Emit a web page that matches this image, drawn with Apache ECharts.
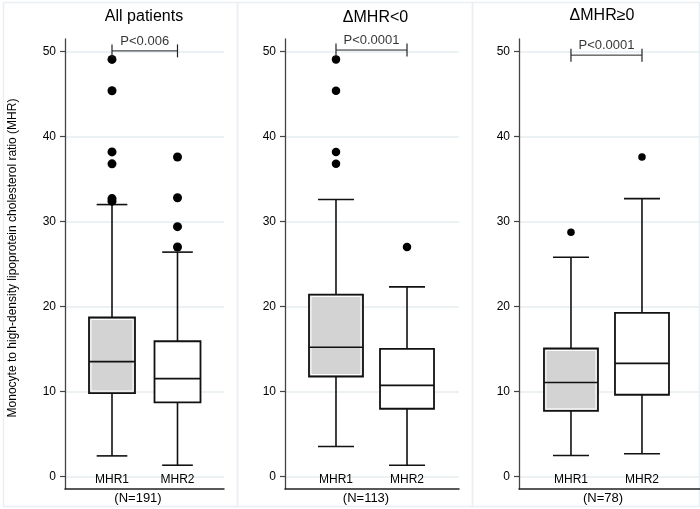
<!DOCTYPE html>
<html><head><meta charset="utf-8">
<script src="https://cdn.jsdelivr.net/npm/echarts@6/dist/echarts.min.js"></script>
<style>html,body{margin:0;padding:0;background:#fff}#c{width:700px;height:509px}</style>
</head><body><div id="c"></div>
<script>
// ---- data ----
const categories = ['MHR1', 'MHR2'];
const panelTitles = ['All patients', 'ΔMHR<0', 'ΔMHR≥0'];
const nLabels = ['(N=191)', '(N=113)', '(N=78)'];
const pLabels = ['P<0.006', 'P<0.0001', 'P<0.0001'];
const yTicks = [0, 10, 20, 30, 40, 50];
const yAxisName = 'Monocyte to high-density lipoprotein cholesterol ratio (MHR)';
// box stats: [min, Q1, median, Q3, max] for MHR1, MHR2
const allBoxes = [[2.4, 9.8, 13.5, 18.7, 32.0], [1.3, 8.7, 11.5, 15.9, 26.4]];
const negBoxes = [[3.5, 11.75, 15.2, 21.4, 32.6], [1.3, 7.95, 10.7, 15.0, 22.3]];
const posBoxes = [[2.45, 7.7, 11.05, 15.05, 25.8], [2.65, 9.6, 13.3, 19.25, 32.7]];
const allOutMHR1 = [49.1, 45.4, 38.2, 36.8, 32.7, 32.4];
const allOutMHR2 = [37.6, 32.8, 29.4, 27.0];
const negOutMHR1 = [49.1, 45.4, 38.2, 36.8];
const negOutMHR2 = [27.0];
const posOutMHR1 = [28.75];
const posOutMHR2 = [37.6];
const pBracketY = [50.1, 50.2, 49.6];

const panelBoxes = [allBoxes, negBoxes, posBoxes];
const panelOut = [[allOutMHR1, allOutMHR2], [negOutMHR1, negOutMHR2], [posOutMHR1, posOutMHR2]];

// ---- layout / style ----
const layout = [
  {left: 65, width: 159, xMin: 0.2824, xMax: 2.71, boxW: 46, dot: 9, titleX: 144, titleY: 17, nX: 138, frame: [3.5, 237.5]},
  {left: 285, width: 174, xMin: 0.282, xMax: 2.732, boxW: 54, dot: 8.5, titleX: 375.5, titleY: 17.5, nX: 366, frame: [237.5, 472.5]},
  {left: 519, width: 181, xMin: 0.268, xMax: 2.817, boxW: 54, dot: 7.5, titleX: 602, titleY: 15.5, nX: 603, frame: [472.5, 699.5]}
];
const boxFills = ['#d3d3d3', '#ffffff'];
const FONT = '"Liberation Sans", Arial, Helvetica, sans-serif';
const TXT = '#000';

function makeRender(boxW) {
  return function (params, api) {
    const x = api.value(0);
    const pMin = api.coord([x, api.value(1)]);
    const pQ1 = api.coord([x, api.value(2)]);
    const pMed = api.coord([x, api.value(3)]);
    const pQ3 = api.coord([x, api.value(4)]);
    const pMax = api.coord([x, api.value(5)]);
    const cx = pMin[0], h = boxW / 2, c = boxW / 3;
    const fill = boxFills[params.dataIndex];
    const ls = {stroke: '#111', lineWidth: 1.6};
    const ch = [
      {type: 'line', shape: {x1: cx, y1: pQ3[1], x2: cx, y2: pMax[1]}, style: ls},
      {type: 'line', shape: {x1: cx - c, y1: pMax[1], x2: cx + c, y2: pMax[1]}, style: ls},
      {type: 'line', shape: {x1: cx, y1: pQ1[1], x2: cx, y2: pMin[1]}, style: ls},
      {type: 'line', shape: {x1: cx - c, y1: pMin[1], x2: cx + c, y2: pMin[1]}, style: ls},
      {type: 'rect', shape: {x: cx - h, y: pQ3[1], width: boxW, height: pQ1[1] - pQ3[1]}, style: {fill: fill, stroke: '#111', lineWidth: 1.8}}
    ];
    if (fill !== '#ffffff') {
      ch.push({type: 'rect', shape: {x: cx - h + 2, y: pQ3[1] + 2, width: boxW - 4, height: pQ1[1] - pQ3[1] - 4}, style: {fill: 'none', stroke: '#ffffff', lineWidth: 1}});
    }
    ch.push({type: 'line', shape: {x1: cx - h, y1: pMed[1], x2: cx + h, y2: pMed[1]}, style: ls});
    return {type: 'group', children: ch};
  };
}

const grids = [], xAxes = [], yAxes = [], series = [], graphics = [];
layout.forEach(function (L, i) {
  grids.push({left: L.left, width: L.width, top: 39, height: 450});
  xAxes.push({
    type: 'value', gridIndex: i, min: L.xMin, max: L.xMax,
    axisLine: {show: true, onZero: false, lineStyle: {color: '#222', width: 1.5}},
    axisTick: {show: false},
    splitLine: {show: false},
    axisLabel: {
      inside: true, margin: 3, color: TXT, fontSize: 12, fontFamily: FONT,
      customValues: [1, 2],
      formatter: function (v) { return categories[Math.round(v) - 1] || ''; }
    }
  });
  yAxes.push({
    type: 'value', gridIndex: i, min: -1.5, max: 51.5,
    axisLine: {show: true, lineStyle: {color: '#444', width: 1.3}},
    axisTick: {show: true, length: 5, customValues: yTicks, lineStyle: {color: '#444', width: 1.2}},
    axisLabel: {show: true, margin: 9, color: TXT, fontSize: 12, fontFamily: FONT, customValues: yTicks},
    splitLine: {show: true, lineStyle: {color: '#e6edf1', width: 1.5}}
  });
  const boxes = panelBoxes[i];
  series.push({
    type: 'custom', xAxisIndex: i, yAxisIndex: i, silent: true,
    renderItem: makeRender(L.boxW),
    encode: {x: 0, y: [1, 2, 3, 4, 5]},
    data: boxes.map(function (b, k) { return [k + 1].concat(b); }),
    z: 3
  });
  const outs = [];
  panelOut[i].forEach(function (arr, k) { arr.forEach(function (v) { outs.push([k + 1, v]); }); });
  series.push({
    type: 'scatter', xAxisIndex: i, yAxisIndex: i, silent: true,
    symbolSize: L.dot, itemStyle: {color: '#000', opacity: 1},
    data: outs, z: 4
  });
  series.push({
    type: 'line', xAxisIndex: i, yAxisIndex: i, silent: true,
    data: [[1, pBracketY[i]], [2, pBracketY[i]]],
    symbol: 'rect', symbolSize: [1.2, 13],
    itemStyle: {color: '#222'}, lineStyle: {color: '#222', width: 1},
    z: 4
  });
  series.push({
    type: 'scatter', xAxisIndex: i, yAxisIndex: i, silent: true,
    data: [[1.5, pBracketY[i]]], symbolSize: 0,
    label: {show: true, position: 'top', distance: 3, formatter: pLabels[i], fontSize: 13, color: TXT, fontFamily: FONT},
    z: 5
  });
  graphics.push({type: 'rect', shape: {x: L.frame[0], y: 2.5, width: L.frame[1] - L.frame[0], height: 504}, style: {fill: 'none', stroke: '#e9eff2', lineWidth: 1.5}, z: -10});
  graphics.push({type: 'text', x: L.titleX, y: L.titleY, style: {text: panelTitles[i], fontSize: 16, fontFamily: FONT, fill: TXT, align: 'center', verticalAlign: 'middle'}});
  graphics.push({type: 'text', x: L.nX, y: 498, style: {text: nLabels[i], fontSize: 13, fontFamily: FONT, fill: TXT, align: 'center', verticalAlign: 'middle'}});
});
graphics.push({type: 'text', x: 13, y: 258, rotation: Math.PI / 2, style: {text: yAxisName, fontSize: 12, fontFamily: FONT, fill: TXT, align: 'center', verticalAlign: 'middle'}});

const chart = echarts.init(document.getElementById('c'), null, {renderer: 'canvas'});
chart.setOption({
  animation: false,
  backgroundColor: '#ffffff',
  grid: grids, xAxis: xAxes, yAxis: yAxes, series: series, graphic: graphics
});
</script></body></html>
